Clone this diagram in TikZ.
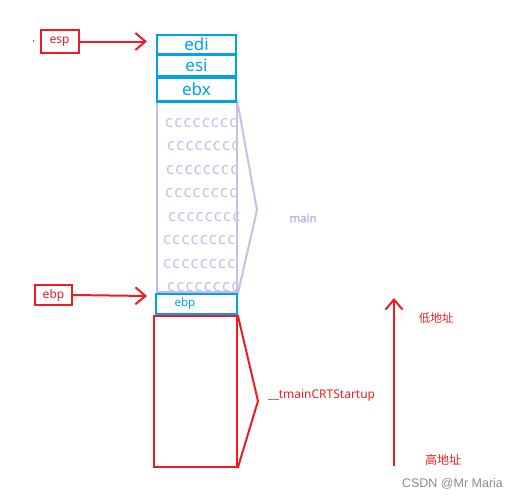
\documentclass[tikz,border=0pt]{standalone}
\usepackage{fontspec}
\setmainfont{Noto Sans}
\newfontfamily\cjk{Noto Sans CJK SC}
\newfontfamily\wm{Liberation Sans}
\newfontfamily\cfont[LetterSpace=7.5]{Noto Sans}
\newfontfamily\mfont[FakeBold=2]{Noto Sans}
\usetikzlibrary{arrows.meta}
\definecolor{pblue}{HTML}{00A2E8}
\definecolor{pred}{HTML}{ED1C24}
\definecolor{plav}{HTML}{C8BFE7}
\definecolor{plavtext}{HTML}{BDB2E0}
\tikzset{
  bluebox/.style={draw=pblue, line width=2.4pt, text=pblue, inner sep=0pt, anchor=center},
  redbox/.style={draw=pred, line width=2pt, text=pred, inner sep=0pt, font=\fontsize{12}{12}\selectfont},
  lavbox/.style={draw=plav, line width=2pt, inner sep=0pt},
  ctext/.style={text=plav, anchor=west, inner sep=0pt, font=\cfont\fontsize{16.5}{16}\selectfont},
  redarrow/.style={draw=pred, line width=2pt, -{Straight Barb[length=10pt,width=17pt,line width=2pt]}},
  lavline/.style={draw=plav, line width=2pt, line join=miter},
  redline/.style={draw=pred, line width=2pt, line join=miter},
  redlabel/.style={text=pred, inner sep=0pt},
}
\begin{document}
\begin{tikzpicture}[x=1pt,y=-1pt]
\useasboundingbox (0,0) rectangle (519,499);
% lavender main area
\node[lavbox, minimum width=80pt, minimum height=190pt] (mainbox) at (197,197) {};
\foreach \yy/\xx [count=\i] in {123/165,146/167,170/166,193/165,217/168,240/163,264/163,287/167}
  \node[ctext] (c\i) at (\xx,\yy) {cccccccc};
\coordinate (mainTip) at (257,210);
\draw[lavline] ([yshift=-4pt]mainbox.north east) -- (mainTip) -- (mainbox.south east);
\node[text=plavtext, inner sep=0pt, font=\mfont\fontsize{11.5}{12}\selectfont] (mainlbl) at (303,218) {main};
% blue stack
\node[bluebox, minimum width=79pt, minimum height=19.5pt, font=\fontsize{17}{17}\selectfont] (edi) at (196.5,44.5) {\raisebox{-2pt}{edi}};
\node[bluebox, minimum width=79pt, minimum height=21pt, font=\fontsize{17}{17}\selectfont] (esi) at (196.5,65.5) {esi};
\node[bluebox, minimum width=79pt, minimum height=24pt, font=\fontsize{17}{17}\selectfont] (ebx) at (196.5,89.5) {\raisebox{-3pt}{ebx}};
\node[bluebox, line width=2pt, minimum width=81pt, minimum height=20pt, font=\fontsize{11.5}{12}\selectfont] (ebpb) at (196,304) {\hspace*{-22pt}ebp};
% red big box
\node[redbox, minimum width=82.5pt, minimum height=151pt] (crt) at (195.5,391.5) {};
\coordinate (crtTip) at (258,401);
\draw[redline] (crt.north east) -- (crtTip) -- (crt.south east);
\node[redlabel, anchor=west, font=\fontsize{12}{12}\selectfont] (crtlbl) at (268,396) {\_\_tmainCRTStartup};
% esp / ebp labels
\node[redbox, minimum width=38pt, minimum height=23pt] (esp) at (59.5,41.5) {esp};
\coordinate (espTip) at (147,41.5);
\draw[redarrow] (esp.east) -- (espTip);
\fill[pred] (33.5,41) circle (0.8pt);
\node[redbox, minimum width=37pt, minimum height=19.5pt] (ebpr) at (53.5,295) {ebp};
\coordinate (ebpTip) at (147,296);
\draw[redarrow] (ebpr.east) -- (ebpTip);
% address direction
\coordinate (addrLow) at (394,466);
\coordinate (addrHigh) at (394,298);
\draw[redarrow] (addrLow) -- (addrHigh);
\node[redlabel, font=\cjk\fontsize{11.5}{12}\selectfont] (lowlbl) at (436,318) {低地址};
\node[redlabel, font=\cjk\fontsize{12}{12}\selectfont] (highlbl) at (443,460) {高地址};
\node[text=black!45, inner sep=0pt, font=\wm\fontsize{12.5}{12}\selectfont] (wmark) at (452.5,484) {CSDN @Mr Maria};
\end{tikzpicture}
\end{document}
